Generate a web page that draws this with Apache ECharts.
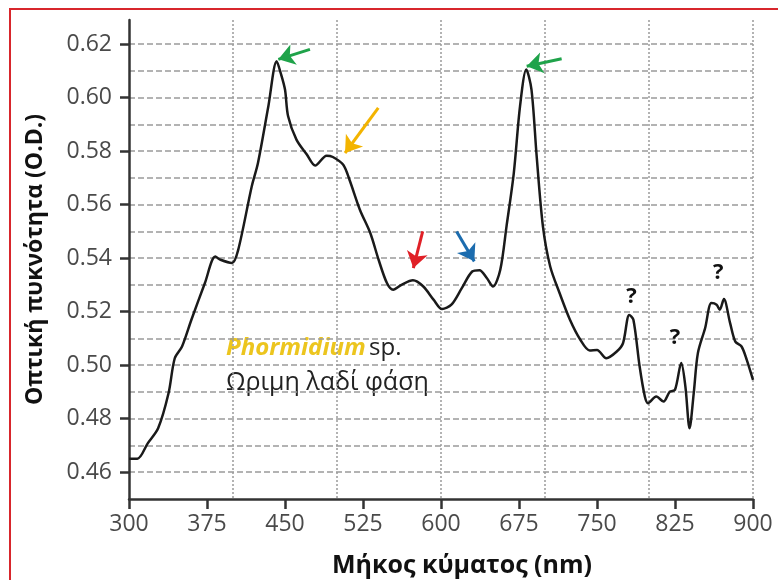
<!DOCTYPE html>
<html>
<head>
<meta charset="utf-8">
<script src="https://cdn.jsdelivr.net/npm/echarts@6/dist/echarts.min.js"></script>
<style>html,body{margin:0;padding:0;background:#fff}#c{width:778px;height:580px}</style>
</head>
<body>
<div id="c"></div>
<script>
// Wavelength (nm)
var wavelength = [300,308,318,328,338,344,351,360,373,383,388,399,405,418,424,434,442,446,450,453,461,471,479,490,496,506,512,522,532,540,548,554,562,573,583,593,601,610,620,630,637,644,650,657,663,670,676,682,687,692,698,705,714,724,734,743,750,759,769,775,781,785,791,796,799,807,814,820,825,831,835,839,843,847,854,860,865,868,872,878,883,889,894,900];
// Optical density (O.D.)
var opticalDensity = [0.465,0.465,0.4708,0.4764,0.4895,0.5026,0.507,0.517,0.5307,0.5406,0.5394,0.5382,0.5431,0.5668,0.5756,0.5968,0.6136,0.609,0.603,0.593,0.5843,0.5787,0.5746,0.5783,0.5778,0.5749,0.5693,0.5581,0.5494,0.5394,0.5307,0.5282,0.530,0.5317,0.5294,0.5244,0.521,0.5226,0.5288,0.535,0.5355,0.5326,0.5294,0.5357,0.5519,0.5718,0.5968,0.6105,0.603,0.578,0.5519,0.5369,0.527,0.517,0.5095,0.5055,0.5057,0.5026,0.5051,0.5082,0.5188,0.517,0.4995,0.4883,0.4858,0.4883,0.4864,0.4901,0.4908,0.5008,0.492,0.4764,0.4895,0.5045,0.5139,0.5232,0.5226,0.5207,0.5247,0.5157,0.5088,0.507,0.502,0.4945];
// Tick labels
var xTickLabels = [300,375,450,525,600,675,750,825,900];
var yTickLabels = [0.46,0.48,0.50,0.52,0.54,0.56,0.58,0.60,0.62];
// Arrow annotations
var arrowFrom = [[474,0.618],[539.7,0.5962],[582.4,0.55],[615,0.55],[716,0.6145]];
var arrowTo   = [[443.6,0.6143],[507.7,0.5793],[573.4,0.5363],[632,0.5388],[682.4,0.6117]];
var arrowColors = ['#1fa34a','#f3b400','#e02027','#1c6cae','#1fa34a'];
// Question mark annotations
var questionMarks = [[783.2,0.5257],[825,0.5101],[866.6,0.5344]];

var data = wavelength.map(function(w,i){return [w, opticalDensity[i]];});
var FONT = 'Open Sans';
var chart = echarts.init(document.getElementById('c'), null, {renderer:'canvas'});
chart.setOption({
  animation:false,
  backgroundColor:'#fff',
  grid:{left:129, right:25, top:20, bottom:81, containLabel:false, outerBoundsMode:'none'},
  xAxis:[{
    type:'value', min:300, max:900, interval:75,
    axisLine:{show:true, lineStyle:{color:'#333', width:2.5}},
    axisTick:{show:true, length:10, lineStyle:{color:'#333', width:2.5}, customValues:xTickLabels},
    axisLabel:{color:'#4a4a4a', fontFamily:FONT, fontSize:23, margin:14, customValues:xTickLabels},
    splitLine:{show:false},
    name:'Μήκος κύματος (nm)', nameLocation:'middle', nameGap:54,
    nameTextStyle:{color:'#111', fontFamily:FONT, fontSize:25, fontWeight:'bold', padding:[0,0,0,42]}
  },{
    type:'value', min:300, max:900, interval:100, position:'top',
    axisLine:{show:false}, axisTick:{show:false}, axisLabel:{show:false},
    splitLine:{show:true, showMinLine:false, lineStyle:{color:'#9a9a9a', width:1.5, type:[2,2]}}
  }],
  yAxis:[{
    type:'value', min:0.45, max:0.629, interval:0.01,
    axisLine:{show:true, lineStyle:{color:'#333', width:2.5}},
    axisTick:{show:true, length:9, lineStyle:{color:'#333', width:2.5}, customValues:yTickLabels},
    axisLabel:{color:'#4a4a4a', fontFamily:FONT, fontSize:23, margin:17, customValues:yTickLabels,
      formatter:function(v){return v.toFixed(2);}},
    splitLine:{show:false},
    name:'Οπτική πυκνότητα (O.D.)', nameLocation:'middle', nameGap:82,
    nameTextStyle:{color:'#111', fontFamily:FONT, fontSize:23, fontWeight:'bold'}
  },{
    type:'value', min:0.45, max:0.629, interval:0.01, position:'right',
    axisLine:{show:false}, axisTick:{show:false}, axisLabel:{show:false},
    splitLine:{show:true, showMinLine:false, showMaxLine:false, lineStyle:{color:'#9a9a9a', width:1.5, type:[6,3]}}
  }],
  series:[{
    type:'line', xAxisIndex:0, yAxisIndex:0, data:data, smooth:0.3, showSymbol:false,
    lineStyle:{color:'#1a1a1a', width:2.5},
    markLine:{
      silent:true, symbol:['none','arrow'], symbolSize:16, label:{show:false},
      data: arrowFrom.map(function(f,i){
        return [{coord:f, lineStyle:{color:arrowColors[i], width:3, type:'solid'}, itemStyle:{color:arrowColors[i]}},{coord:arrowTo[i]}];
      })
    },
    markPoint:{
      silent:true, symbol:'circle', symbolSize:1, itemStyle:{color:'rgba(0,0,0,0)'},
      label:{show:true, position:'inside', formatter:'?', color:'#111', fontFamily:FONT, fontSize:22, fontWeight:'bold'},
      data: questionMarks.map(function(q){return {coord:q};})
    }
  }],
  graphic:[
    {type:'rect', shape:{x:10, y:9, width:820, height:640}, style:{fill:'none', stroke:'#d8262c', lineWidth:2}, silent:true},
    {type:'text', left:226, top:336, style:{
      text:'{a|Phormidium} {b|sp.}',
      rich:{a:{fontFamily:FONT, fontSize:24, fontWeight:'bold', fontStyle:'italic', fill:'#ecc51e'},
            b:{fontFamily:FONT, fontSize:24, fill:'#222'}}
    }},
    {type:'text', left:226, top:370, style:{text:'Ωριμη λαδί φάση', fontFamily:FONT, fontSize:25, fill:'#222'}}
  ]
});
</script>
</body>
</html>
